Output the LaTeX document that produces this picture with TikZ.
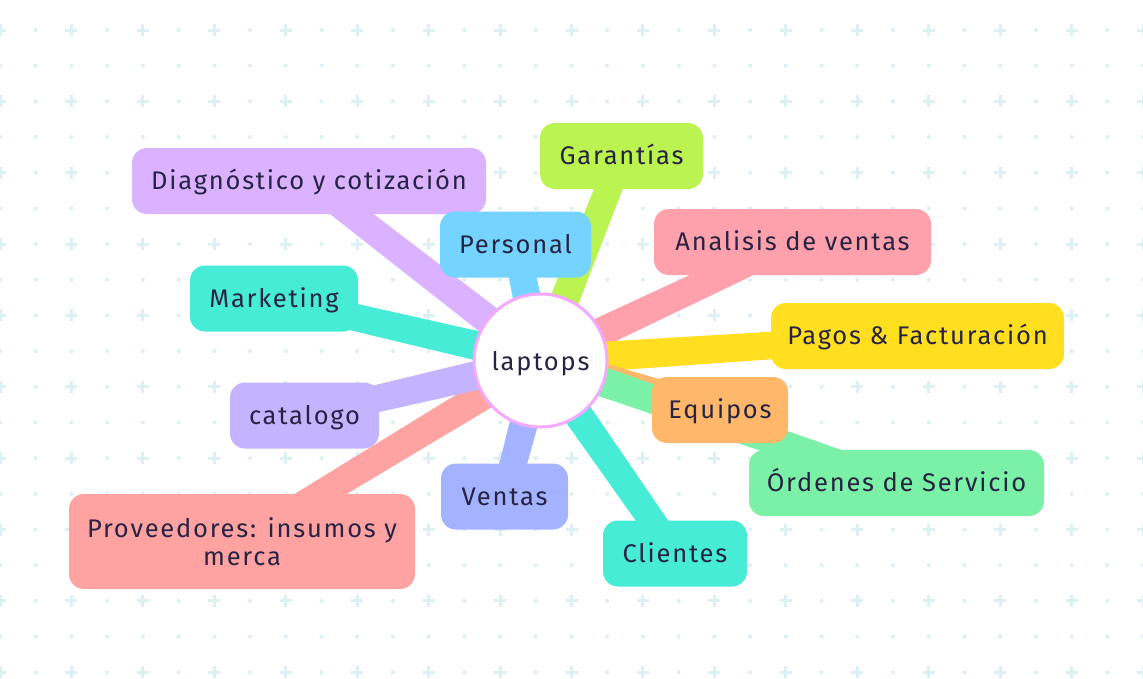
\documentclass[tikz,border=0pt]{standalone}
\usepackage{fontspec}
\setmainfont{Fira Sans}[LetterSpace=7]
\usetikzlibrary{calc}
\definecolor{txt}{HTML}{272342}
\definecolor{gridc}{HTML}{DCEFF3}
\definecolor{cDiag}{HTML}{DAB2FF}
\definecolor{cGar}{HTML}{BBF451}
\definecolor{cPer}{HTML}{74D4FF}
\definecolor{cAna}{HTML}{FFA1AD}
\definecolor{cPag}{HTML}{FFDF20}
\definecolor{cMkt}{HTML}{46ECD5}
\definecolor{cCat}{HTML}{C4B4FF}
\definecolor{cEqu}{HTML}{FFB86A}
\definecolor{cOrd}{HTML}{7BF1A8}
\definecolor{cVen}{HTML}{A3B3FF}
\definecolor{cCli}{HTML}{46ECD5}
\definecolor{cPro}{HTML}{FFA2A2}
\definecolor{cRoot}{HTML}{F4A8FF}
\pgfdeclarelayer{gridlayer}
\pgfdeclarelayer{edgelayer}
\pgfsetlayers{gridlayer,edgelayer,main}
\newcommand\mmbranch[3]{%
  \fill[#1] ($(#2.center)!15pt!90:(#3.center)$) -- ($(#2.center)!15pt!-90:(#3.center)$)
    -- ($(#3.center)!13pt!90:(#2.center)$) -- ($(#3.center)!13pt!-90:(#2.center)$) -- cycle;}
\tikzset{
  leafbase/.style={rounded corners=15pt, minimum height=66pt, inner sep=0pt, text=txt,
    font=\fontsize{25.5}{28}\selectfont},
  leaf/.style={leafbase, text height=17.5pt, text depth=0pt},
  rootnode/.style={circle, draw=cRoot, line width=3pt, fill=white, minimum size=133pt,
    inner sep=0pt, text=txt, font=\fontsize{25.5}{28}\selectfont,
    text height=19pt, text depth=0pt},
  plusmark/.style={gridc, line width=3pt},
}
\begin{document}
\begin{tikzpicture}[x=1pt,y=-1pt]
\useasboundingbox (0,0) rectangle (1143,678);
\begin{pgfonlayer}{gridlayer}
\fill[white] (0,0) rectangle (1143,678);
\foreach \i in {0,...,32}{
  \foreach \j in {0,...,18}{
    \pgfmathsetmacro\xx{35.72*\i}
    \pgfmathsetmacro\yy{30+35.68*\j}
    \pgfmathtruncatemacro\parity{mod(\i,2)+mod(\j,2)}
    \ifnum\parity=0
      \draw[plusmark] (\xx-6,\yy) -- (\xx+6,\yy) (\xx,\yy-6) -- (\xx,\yy+6);
    \else
      \fill[gridc] (\xx,\yy) circle (2);
    \fi
  }
}
\end{pgfonlayer}

\node[rootnode] (root) at (540.5,360.5) {laptops};
\node[leaf, fill=cDiag, minimum width=354pt] (diag) at (309,181) {Diagnóstico y cotización};
\node[leaf, fill=cGar, minimum width=163pt] (gar) at (621.5,156) {Garantías};
\node[leaf, fill=cPer, minimum width=151pt] (per) at (515.5,244.5) {Personal};
\node[leaf, fill=cAna, minimum width=277pt] (ana) at (792.5,242) {Analisis de ventas};
\node[leaf, fill=cPag, minimum width=293pt] (pag) at (917.5,336) {Pagos \& Facturación};
\node[leaf, fill=cMkt, minimum width=168pt] (mkt) at (274,298.5) {Marketing};
\node[leaf, fill=cCat, minimum width=149pt] (cat) at (304.5,415.5) {catalogo};
\node[leaf, fill=cEqu, minimum width=136pt] (equ) at (720,410) {Equipos};
\node[leaf, fill=cOrd, minimum width=295pt] (ord) at (896.5,483) {Órdenes de Servicio};
\node[leaf, fill=cVen, minimum width=127pt] (ven) at (504.5,496.5) {Ventas};
\node[leaf, fill=cCli, minimum width=144pt] (cli) at (675,553.5) {Clientes};
\node[leafbase, fill=cPro, minimum width=346pt, minimum height=95pt, align=center] (pro) at (242,541.5) {Proveedores: insumos y\\merca};

\begin{pgfonlayer}{edgelayer}
\mmbranch{cDiag}{root}{diag}
\mmbranch{cPer}{root}{per}
\mmbranch{cGar}{root}{gar}
\mmbranch{cAna}{root}{ana}
\mmbranch{cPag}{root}{pag}
\mmbranch{cEqu}{root}{equ}
\mmbranch{cOrd}{root}{ord}
\mmbranch{cCli}{root}{cli}
\mmbranch{cVen}{root}{ven}
\mmbranch{cPro}{root}{pro}
\mmbranch{cCat}{root}{cat}
\mmbranch{cMkt}{root}{mkt}
\end{pgfonlayer}
\end{tikzpicture}
\end{document}
